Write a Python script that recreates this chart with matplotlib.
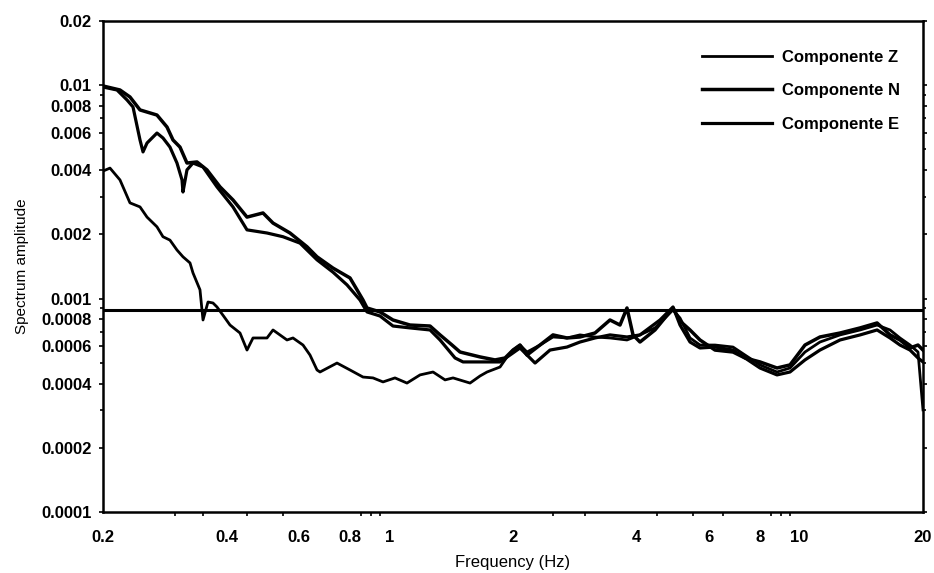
import numpy as np
import matplotlib.pyplot as plt
from matplotlib.ticker import FixedLocator, NullFormatter

### spectra (frequency in Hz, amplitude)
freq_z = [0.200, 0.208, 0.220, 0.2327, 0.2462, 0.2561, 0.2708, 0.2801, 0.2913, 0.3030,
          0.3134, 0.3260, 0.3315, 0.3448, 0.3487, 0.3507, 0.3607, 0.3709, 0.3793, 0.3968,
          0.4081, 0.4317, 0.4490, 0.4644, 0.5024, 0.5196, 0.5621, 0.5813, 0.6150, 0.6396,
          0.6653, 0.6766, 0.7443, 0.8007, 0.8614, 0.9111, 0.9638, 1.0308, 1.1026, 1.1867,
          1.2765, 1.3655, 1.4282, 1.5713, 1.6620, 1.7286, 1.8594, 1.9340, 2.0, 2.0802,
          2.1636, 2.3274, 2.5036, 2.7084, 2.9134, 3.1698, 3.4482, 3.7934, 4.0808, 4.4392,
          4.9124, 5.1096, 5.4046, 5.7164, 6.2196, 6.8810, 7.3604, 8.0072, 8.8096, 9.4768,
          10.308, 11.213, 12.552, 14.051, 15.454, 16.620, 17.573, 18.594, 19.446, 20.0]
amp_z = [0.00396, 0.00409, 0.00360, 0.00281, 0.00269, 0.00241, 0.00217, 0.00195, 0.00188, 0.00169,
         0.00157, 0.00147, 0.00132, 0.00110, 0.000885, 0.000794, 0.000964, 0.000954, 0.000914, 0.000811,
         0.000752, 0.000690, 0.000574, 0.000654, 0.000654, 0.000713, 0.000640, 0.000654, 0.000606, 0.000544,
         0.000463, 0.000453, 0.000499, 0.000463, 0.000429, 0.000425, 0.000407, 0.000425, 0.000402, 0.000439,
         0.000453, 0.000416, 0.000425, 0.000402, 0.000434, 0.000453, 0.000478, 0.000533, 0.000574, 0.000606,
         0.000562, 0.000606, 0.000661, 0.000654, 0.000676, 0.000661, 0.000654, 0.000640, 0.000676, 0.000729,
         0.000885, 0.000811, 0.000654, 0.000606, 0.000606, 0.000593, 0.000544, 0.000489, 0.000453, 0.000473,
         0.000562, 0.000626, 0.000676, 0.000713, 0.000752, 0.000713, 0.000654, 0.000606, 0.000562, 0.000301]

freq_n = [0.200, 0.220, 0.2327, 0.2462, 0.2708, 0.2865, 0.2963, 0.3082, 0.3205, 0.3391,
          0.3586, 0.3858, 0.4150, 0.4490, 0.4912, 0.5196, 0.5716, 0.6289, 0.6653, 0.7278,
          0.8007, 0.8328, 0.8614, 0.8810, 0.9477, 1.0193, 1.1213, 1.2552, 1.3277, 1.4202,
          1.4855, 1.6620, 1.8080, 1.9124, 2.0, 2.0802, 2.1636, 2.3274, 2.5036, 2.7084,
          2.9134, 3.1698, 3.4482, 3.6476, 3.7934, 3.924, 4.0808, 4.4392, 4.9124, 5.1096,
          5.4046, 5.7164, 6.2196, 6.8810, 7.3604, 8.0072, 8.8096, 9.4768, 10.308, 11.213,
          12.552, 14.051, 15.454, 16.620, 17.573, 18.594, 19.446, 20.0]
amp_n = [0.00992, 0.00950, 0.00881, 0.00766, 0.00725, 0.00637, 0.00554, 0.00513, 0.00432, 0.00437,
         0.00401, 0.00334, 0.00290, 0.00241, 0.00252, 0.00226, 0.00203, 0.00175, 0.00157, 0.00139,
         0.00125, 0.00110, 0.000985, 0.000904, 0.000866, 0.000794, 0.000752, 0.000744, 0.000676, 0.000606,
         0.000562, 0.000533, 0.000516, 0.000527, 0.000574, 0.000606, 0.000544, 0.000606, 0.000676, 0.000654,
         0.000661, 0.000690, 0.000794, 0.000752, 0.000904, 0.000676, 0.000626, 0.000713, 0.000904, 0.000785,
         0.000713, 0.000640, 0.000574, 0.000562, 0.000527, 0.000505, 0.000473, 0.000489, 0.000606, 0.000661,
         0.000690, 0.000729, 0.000769, 0.000676, 0.000640, 0.000587, 0.000606, 0.000574]

freq_e = [0.200, 0.2164, 0.2289, 0.2367, 0.2462, 0.2504, 0.2561, 0.2708, 0.2801, 0.2913,
          0.3030, 0.3117, 0.3134, 0.3205, 0.3315, 0.3507, 0.3793, 0.4150, 0.4490, 0.5024,
          0.5496, 0.6047, 0.6653, 0.7278, 0.7873, 0.8470, 0.8810, 0.9477, 1.0193, 1.1213,
          1.2552, 1.3277, 1.4444, 1.5107, 1.6620, 1.8594, 1.9666, 2.0802, 2.2637, 2.4618,
          2.7084, 2.9134, 3.1698, 3.4482, 3.7934, 4.0808, 4.5656, 4.9124, 5.1096, 5.4046,
          5.7164, 6.2196, 6.8810, 7.3604, 8.0072, 8.8096, 9.4768, 10.308, 11.213, 12.552,
          14.051, 15.454, 16.620, 17.573, 18.594, 19.446, 20.0]
amp_e = [0.00981, 0.00950, 0.00853, 0.00791, 0.00554, 0.00487, 0.00536, 0.00597, 0.00566, 0.00513,
         0.00432, 0.00360, 0.00316, 0.00401, 0.00432, 0.00414, 0.00334, 0.00269, 0.00210, 0.00203,
         0.00195, 0.00182, 0.00152, 0.00133, 0.00116, 0.000985, 0.000866, 0.000829, 0.000744, 0.000729,
         0.000713, 0.000640, 0.000527, 0.000505, 0.000505, 0.000505, 0.000544, 0.000587, 0.000499, 0.000574,
         0.000593, 0.000626, 0.000654, 0.000676, 0.000661, 0.000676, 0.000794, 0.000914, 0.000752, 0.000626,
         0.000587, 0.000593, 0.000574, 0.000527, 0.000473, 0.000439, 0.000453, 0.000516, 0.000574, 0.000640,
         0.000676, 0.000713, 0.000654, 0.000606, 0.000574, 0.000527, 0.000505]

threshold = 0.00088

x_ticks = [0.2, 0.4, 0.6, 0.8, 1, 2, 4, 6, 8, 10, 20]
x_labels = ['0.2', '0.4', '0.6', '0.8', '1', '2', '4', '6', '8', '10', '20']
x_minor = [0.3, 0.35, 0.45, 0.55, 0.8, 0.85, 0.9, 0.95, 1, 2.5, 3, 4.5, 5.5, 6.5, 8.5, 9, 9.5]
y_ticks = [0.02, 0.01, 0.008, 0.006, 0.004, 0.002, 0.001, 0.0008, 0.0006, 0.0004, 0.0002, 0.0001]
y_labels = ['0.02', '0.01', '0.008', '0.006', '0.004', '0.002', '0.001', '0.0008', '0.0006',
            '0.0004', '0.0002', '0.0001']

plt.rcParams['font.family'] = ['Liberation Sans', 'DejaVu Sans']

fig = plt.figure(figsize=(9.34, 5.73), dpi=100)
ax = fig.add_axes([103/934, 1 - 512/573, 820/934, 491/573])

ax.plot(freq_z, amp_z, color='black', lw=2.0, label='Componente Z')
ax.plot(freq_n, amp_n, color='black', lw=2.5, label='Componente N')
ax.plot(freq_e, amp_e, color='black', lw=2.3, label='Componente E')
ax.axhline(threshold, color='black', lw=2.2)

ax.set_xscale('log')
ax.set_yscale('log')
ax.set_xlim(0.2, 20)
ax.set_ylim(0.0001, 0.02)

ax.set_xticks(x_ticks)
ax.set_xticklabels(x_labels)
ax.xaxis.set_minor_locator(FixedLocator(x_minor))
ax.xaxis.set_minor_formatter(NullFormatter())
ax.set_yticks(y_ticks)
ax.set_yticklabels(y_labels)
ax.yaxis.set_minor_formatter(NullFormatter())

ax.tick_params(axis='x', which='major', length=0, pad=13, labelsize=12)
ax.tick_params(axis='x', which='minor', length=3, width=1.2, direction='out')
ax.tick_params(axis='y', which='both', direction='out', right=True, width=1.2)
ax.tick_params(axis='y', which='major', length=3, pad=5, labelsize=12)
ax.tick_params(axis='y', which='minor', length=2)
for lab in ax.get_xticklabels() + ax.get_yticklabels():
    lab.set_fontweight('bold')

for s in ax.spines.values():
    s.set_linewidth(1.8)

fig.text(22/934, 1 - 266/573, 'Spectrum amplitude', rotation=90, ha='center', va='center', fontsize=11)
fig.text(513/934, 1 - 562/573, 'Frequency (Hz)', ha='center', va='center', fontsize=12)

leg = ax.legend(loc='upper left', bbox_to_anchor=((702 - 103)/820, 1 - (50 - 21)/491),
                frameon=False, borderaxespad=0, borderpad=0, handlelength=4.2,
                handletextpad=0.6, labelspacing=1.1, fontsize=12)
for t in leg.get_texts():
    t.set_fontweight('bold')

fig.savefig('out.png', dpi=100)
